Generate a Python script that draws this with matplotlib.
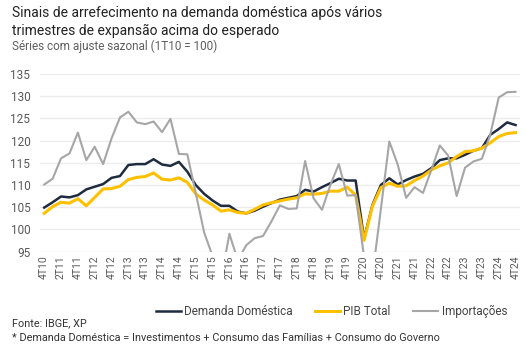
import matplotlib.pyplot as plt
import numpy as np

plt.rcParams.update({
    "font.family": ["Roboto", "DejaVu Sans"],
    "figure.facecolor": "white",
    "axes.facecolor": "white",
})

# 4T10 .. 4T24, quarterly, seasonally adjusted index (1T10 = 100)
demanda = [104.9, 106.1, 107.4, 107.2, 107.7, 109.0, 109.6, 110.2, 111.6, 112.0,
           114.5, 114.7, 114.7, 115.8, 114.6, 114.3, 115.2, 113.0, 110.0, 108.0,
           106.5, 105.3, 105.3, 104.0, 103.6, 104.2, 105.1, 105.9, 106.7, 107.1,
           107.5, 108.9, 108.5, 109.5, 110.4, 111.4, 111.0, 111.0, 97.9, 105.5,
           110.0, 111.5, 110.1, 111.1, 111.9, 112.5, 113.8, 115.6, 116.0, 116.0,
           116.8, 117.7, 118.3, 121.3, 122.6, 124.1, 123.5]
pib = [103.6, 105.1, 106.1, 105.9, 106.9, 105.3, 107.2, 109.1, 109.2, 109.7,
       111.2, 111.7, 111.9, 112.7, 111.3, 111.1, 111.6, 110.6, 108.0, 106.6,
       105.5, 104.1, 104.4, 103.8, 103.6, 104.5, 105.5, 106.0, 106.4, 106.8,
       107.1, 108.0, 107.9, 108.1, 108.6, 108.6, 109.5, 107.7, 97.5, 105.2,
       109.4, 110.4, 109.7, 109.8, 111.0, 112.0, 113.4, 114.3, 115.0, 116.4,
       117.5, 117.7, 118.3, 119.5, 120.9, 121.6, 121.8]
importacoes = [110.1, 111.4, 116.0, 117.1, 121.8, 115.6, 118.6, 114.7, 120.5, 125.2,
               126.5, 124.1, 123.7, 124.3, 121.9, 124.9, 117.0, 116.9, 108.2, 99.3,
               94.0, 88.5, 99.0, 93.0, 96.4, 98.0, 98.5, 101.8, 105.4, 104.6,
               104.7, 115.4, 107.0, 104.4, 110.0, 114.7, 107.6, 107.7, 93.8, 89.6,
               104.6, 119.8, 114.6, 107.1, 109.5, 108.2, 113.4, 118.9, 116.6, 107.5,
               113.9, 115.3, 115.9, 121.4, 129.7, 130.9, 131.0]
tick_labels = ["4T10", "2T11", "4T11", "2T12", "4T12", "2T13", "4T13", "2T14", "4T14",
               "2T15", "4T15", "2T16", "4T16", "2T17", "4T17", "2T18", "4T18", "2T19",
               "4T19", "2T20", "4T20", "2T21", "4T21", "2T22", "4T22", "2T23", "4T23",
               "2T24", "4T24"]

x = np.arange(len(demanda))

fig = plt.figure(figsize=(5.32, 3.55), dpi=100)
ax = fig.add_axes([0.0752, 0.2915, 0.9018, 0.5])

ax.plot(x, demanda, color="#1f2b3e", lw=1.8, label="Demanda Doméstica", zorder=3)
ax.plot(x, pib, color="#ffc000", lw=2.2, label="PIB Total", zorder=4)
ax.plot(x, importacoes, color="#a6a6a6", lw=1.5, label="Importações", zorder=5)

ax.set_ylim(95, 135)
ax.set_yticks(np.arange(95, 136, 5))
ax.set_xlim(-0.5, len(demanda) - 0.5)
ax.set_xticks(x[::2])
ax.set_xticklabels(tick_labels, rotation=90)
ax.tick_params(axis="both", length=0, labelcolor="#595959")
ax.tick_params(axis="y", labelsize=8.5, pad=7)
ax.tick_params(axis="x", labelsize=7.5, pad=3)
ax.grid(axis="y", color="#ececec", lw=1, zorder=0)
for s in ax.spines.values():
    s.set_visible(False)

fig.text(0.0226, 0.951, "Sinais de arrefecimento na demanda doméstica após vários",
         fontsize=10, color="#222222", va="baseline")
fig.text(0.0226, 0.901, "trimestres de expansão acima do esperado",
         fontsize=10, color="#222222", va="baseline")
fig.text(0.0226, 0.859, "Séries com ajuste sazonal (1T10 = 100)",
         fontsize=8.5, color="#5f5f5f", va="baseline")

fig.legend(loc="center", bbox_to_anchor=(0.623, 0.122), ncol=3, frameon=False,
           fontsize=8.5, handlelength=2.1, handletextpad=0.3, columnspacing=1.9,
           labelcolor="#444444")

fig.text(0.0226, 1 - 326 / 355, "Fonte: IBGE, XP", fontsize=7.8, color="#333333", va="baseline")
fig.text(0.0226, 1 - 340.7 / 355,
         "* Demanda Doméstica = Investimentos + Consumo das Famílias + Consumo do Governo",
         fontsize=7.8, color="#333333", va="baseline")

plt.savefig("out.png", dpi=100, facecolor="white")
plt.close()
